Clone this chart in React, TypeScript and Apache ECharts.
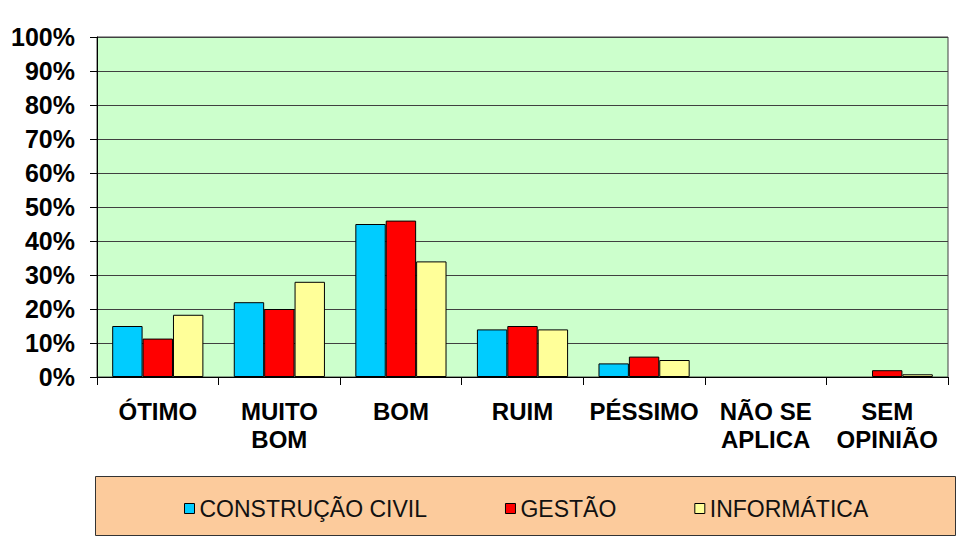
import React, { useEffect, useRef } from "react";
import * as echarts from "echarts";

const categories = ["ÓTIMO", "MUITO\nBOM", "BOM", "RUIM", "PÉSSIMO", "NÃO SE\nAPLICA", "SEM\nOPINIÃO"];
const seriesNames = ["CONSTRUÇÃO CIVIL", "GESTÃO", "INFORMÁTICA"];
const construcaoCivil = [15, 22, 45, 14, 4, 0, 0];
const gestao = [11.3, 20, 46, 15, 6, 0, 2];
const informatica = [18.3, 28, 34, 14, 5, 0, 0.8];
const yTicks = [0, 10, 20, 30, 40, 50, 60, 70, 80, 90, 100];
const colors = ["#00CCFF", "#FF0000", "#FFFF99"];

const FONT = 'Arial, "Liberation Sans", sans-serif';

export default function App() {
  const ref = useRef<HTMLDivElement>(null);
  useEffect(() => {
    if (!ref.current) return;
    const chart = echarts.init(ref.current, null, { renderer: "svg" });
    const values = [construcaoCivil, gestao, informatica];
    chart.setOption({
      animation: false,
      backgroundColor: "#ffffff",
      graphic: [
        {
          type: "rect",
          left: 95,
          top: 476,
          shape: { width: 860, height: 59 },
          style: { fill: "#FCCB9C", stroke: "#333333", lineWidth: 1 },
          z: -1,
        },
      ],
      legend: {
        left: 179,
        top: 492,
        itemWidth: 10,
        itemHeight: 10,
        itemGap: 78,
        textStyle: { fontFamily: FONT, fontSize: 23, color: "#111" },
        data: seriesNames.map((n, i) => ({
          name: n,
          icon: "rect",
          itemStyle: { color: colors[i], borderColor: "#000", borderWidth: 1 },
        })),
      },
      grid: {
        left: 97,
        right: 28,
        top: 37,
        bottom: 159,
        show: true,
        backgroundColor: "#CCFFCC",
        borderColor: "#404040",
        borderWidth: 1,
      },
      xAxis: {
        type: "category",
        data: categories,
        axisLine: { lineStyle: { color: "#000", width: 1 } },
        axisTick: { show: true, length: 8, lineStyle: { color: "#000" } },
        axisLabel: {
          fontFamily: FONT,
          fontSize: 24,
          fontWeight: "bold",
          color: "#000",
          lineHeight: 28,
          margin: 20,
          interval: 0,
        },
      },
      yAxis: {
        type: "value",
        min: 0,
        max: 100,
        interval: 10,
        axisLine: { show: true, lineStyle: { color: "#000", width: 1 } },
        axisTick: { show: true, length: 7, lineStyle: { color: "#000" } },
        splitLine: { show: true, lineStyle: { color: "#404040", width: 1 } },
        axisLabel: {
          fontFamily: FONT,
          fontSize: 25,
          fontWeight: "bold",
          color: "#000",
          margin: 22,
          formatter: (v: number) => (yTicks.includes(v) ? v + "%" : ""),
        },
      },
      series: seriesNames.map((n, i) => ({
        name: n,
        type: "bar",
        data: values[i].map((v) => (v === 0 ? "-" : v)),
        barGap: "0%",
        barCategoryGap: "25%",
        itemStyle: { color: colors[i], borderColor: "#000", borderWidth: 1 },
      })),
    });
    return () => chart.dispose();
  }, []);
  return (
    <div
      ref={ref}
      style={{ position: "fixed", left: 0, top: 0, width: 976, height: 536 }}
    />
  );
}
